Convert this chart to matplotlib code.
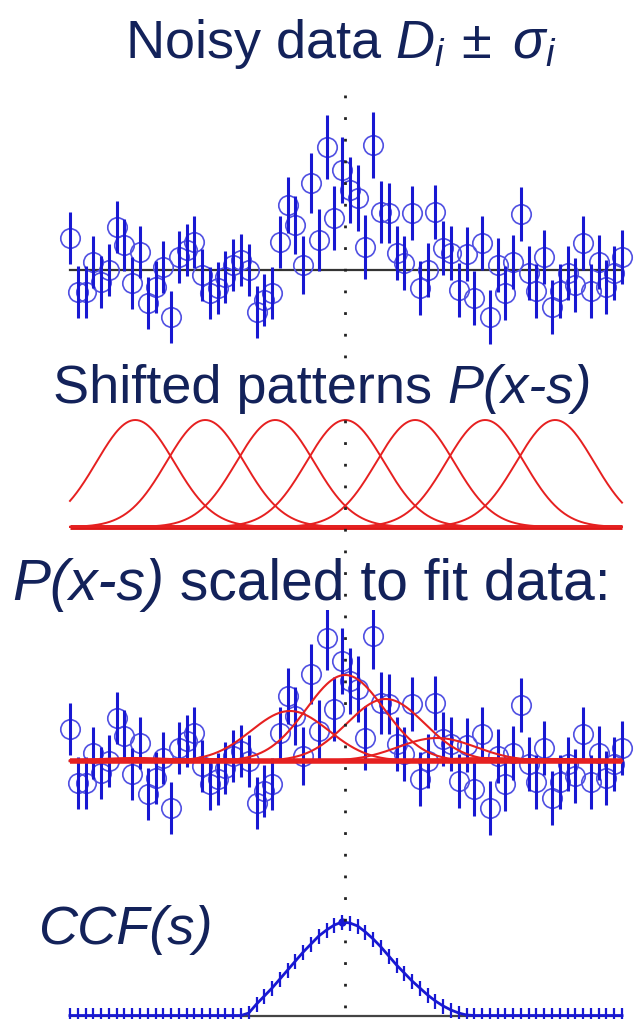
import numpy as np
import matplotlib.pyplot as plt

plt.rcParams['font.family'] = ['Liberation Sans', 'DejaVu Sans']
plt.rcParams['mathtext.fontset'] = 'custom'
plt.rcParams['mathtext.rm'] = 'Liberation Sans'
plt.rcParams['mathtext.it'] = 'Liberation Sans:italic'
plt.rcParams['mathtext.bf'] = 'Liberation Sans:bold'

# noisy data points D_i and their errors sigma_i (one per pixel index)
data = [3.2, -2.2, -2.2, 0.8, -1.2, 0.0, 4.3, 2.5, -1.3, 1.8,
        -3.3, -1.7, 0.3, -4.7, 1.3, 2.0, 2.8, -0.5, -2.3, -1.8,
        -0.7, 0.5, 1.0, 0.0, -4.2, -3.0, -2.3, 2.8, 6.5, 4.5,
        0.5, 8.7, 3.0, 12.3, 5.2, 10.0, 8.0, 7.2, 2.3, 12.5,
        5.8, 5.7, 1.7, 0.7, 5.7, -1.8, 0.0, 5.8, 2.2, 1.7,
        -2.0, 1.6, -2.8, 2.7, -4.7, 0.5, -2.3, 0.8, 5.6, -0.3,
        -2.1, 1.3, -3.7, -2.1, -0.3, -1.5, 2.7, -2.1, 0.8, -1.7,
        -0.3, 1.3]
sigma = [2.6] * 28 + [2.8, 2.9, 2.9, 3.0, 3.1, 3.2, 3.2, 3.3, 3.3, 3.3,
                      3.2, 3.3, 3.1, 3.0] + [2.7] * 30

# shifted template positions and width (in pixel indices)
pattern_centres = [8.4, 17.4, 26.4, 35.4, 44.4, 53.4, 62.4]
pattern_width = 5.0

# templates scaled to the data
fit_centres = [8.4, 17.4, 28.3, 35.4, 40.6, 47.2, 53.4, 62.4]
fit_amps = [0.3, 0.2, 5.0, 8.6, 6.2, 2.3, 0.3, 0.2]

# cross-correlation function and its error
ccf = [0.05] * 23 + [0.3, 1.2, 2.0, 2.8, 3.7, 4.6, 5.5, 6.4, 7.2, 8.0,
                     8.6, 9.1, 9.4, 9.3, 9.0, 8.4, 7.7, 6.9, 6.0, 5.1,
                     4.3, 3.5, 2.8, 2.1, 1.5, 1.0, 0.6, 0.3, 0.1] + [0.05] * 20
ccf_err = 0.75
peak = 35.4

W, H = 635, 1019
navy = '#13225a'
blue = '#1818d2'
red = '#e62020'

fig = plt.figure(figsize=(W / 100, H / 100), dpi=100)
x = np.arange(len(data))
xs = np.linspace(0, len(data) - 1, 500)


def panel(top, bottom, ylo, yhi):
    ax = fig.add_axes([0, 1 - bottom / H, 1, (bottom - top) / H])
    ax.set_xlim(-9.0, 72.67)
    ax.set_ylim(ylo, yhi)
    ax.axis('off')
    ax.patch.set_alpha(0)
    return ax


def gauss(c, a):
    return a * np.exp(-0.5 * ((xs - c) / pattern_width) ** 2)


def plot_data(ax):
    ax.plot([x[0], x[-1]], [0, 0], color='#333333', lw=1.6, zorder=1)
    ax.plot(x, data, 'o', mfc='none', mec='#5050e2', mew=1.2, ms=14, zorder=2)
    ax.errorbar(x, data, yerr=sigma, fmt='none', ecolor=blue, elinewidth=2.2,
                capsize=0, zorder=3)


# noisy data
ax1 = panel(85, 345, -7.5, 18.5)
plot_data(ax1)

# shifted patterns
ax2 = panel(410, 540, -0.1215, 1.0935)
ax2.plot([x[0], x[-1]], [0, 0], color='#dd1818', lw=3.5, solid_capstyle='butt')
for c in pattern_centres:
    ax2.plot(xs, gauss(c, 1.0), color=red, lw=1.4)

# patterns scaled to the data
ax3 = panel(610, 840, -7.9, 15.1)
plot_data(ax3)
ax3.plot([x[0], x[-1]], [0, 0], color=red, lw=4, solid_capstyle='butt', zorder=4)
for c, a in zip(fit_centres, fit_amps):
    ax3.plot(xs, gauss(c, a), color=red, lw=1.5, zorder=4)

# CCF
ax4 = panel(900, 1019, -0.3, 11.6)
ax4.plot([x[0], x[-1]], [0, 0], color='#444444', lw=1.6, zorder=1)
ax4.errorbar(x, ccf, yerr=ccf_err, fmt='-', color=blue, lw=2.0,
             elinewidth=1.6, capsize=0, zorder=2, clip_on=False)
ip = int(np.argmax(ccf))
ax4.plot(x[ip], ccf[ip], 'o', color=blue, ms=5, zorder=3)

# dotted line through the true centre
ax0 = fig.add_axes([0, 0, 1, 1])
ax0.set_xlim(-9.0, 72.67)
ax0.set_ylim(H, 0)
ax0.axis('off')
ax0.patch.set_alpha(0)
ax0.plot([peak, peak], [95, H], color='#222222', lw=2, dashes=(1, 6.8))

# headings
renderer = fig.canvas.get_renderer()


def heading(xp, yp, parts, size=39):
    for s, style in parts:
        t = fig.text(xp / W, 1 - yp / H, s, fontsize=size, style=style,
                     color=navy, va='baseline', zorder=10)
        xp += t.get_window_extent(renderer).width


heading(125, 58, [(r'Noisy data $D_i\,\pm\;\sigma_i$', 'normal')])
heading(53, 403, [('Shifted patterns ', 'normal'), ('P(x-s)', 'italic')])
heading(12, 600, [('P(x-s)', 'italic'), (' scaled to fit data:', 'normal')],
        size=41)
heading(38, 944, [('CCF(s)', 'italic')])

fig.savefig('out.png', dpi=100)
